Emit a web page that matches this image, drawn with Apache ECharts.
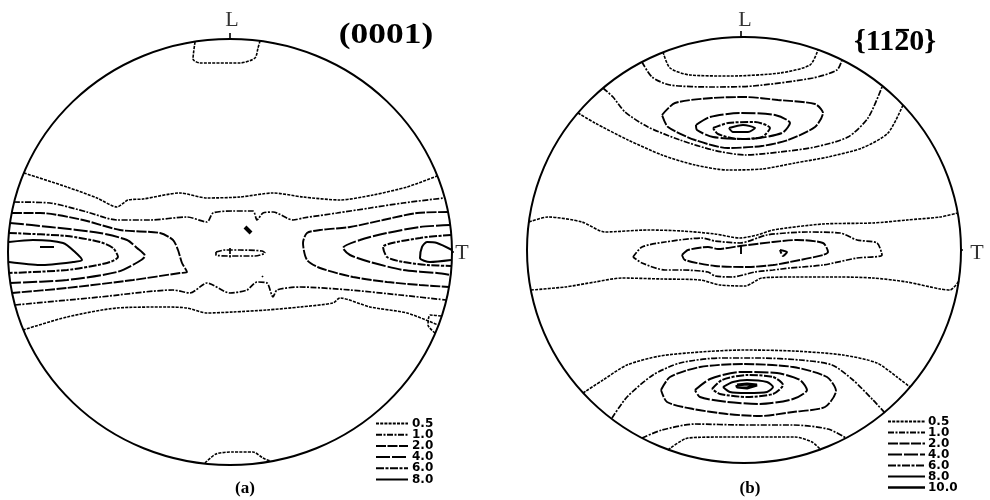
<!DOCTYPE html>
<html><head><meta charset="utf-8">
<script src="https://cdn.jsdelivr.net/npm/echarts@6/dist/echarts.min.js"></script>
<style>html,body{margin:0;padding:0;background:#fff}#c{width:990px;height:500px}</style>
</head><body><div id="c"></div>
<script>
// ---------- contour levels (legend) ----------
const levelsA = ['0.5', '1.0', '2.0', '4.0', '6.0', '8.0'];
const levelsB = ['0.5', '1.0', '2.0', '4.0', '6.0', '8.0', '10.0'];

// ---------- panel (a) (0001): contour traces, projection units (net radius x 222, y 213) ----------
const aCapTop  = [[-35,210],[-37,193],[-30,189],[10,189],[25,194],[28,204],[30,211]];
const aCapBot  = [[-25,-211],[-14,-202],[3,-200],[23,-200],[33,-206],[40,-209]];
const a05Top   = [[-206,79],[-163,65],[-133,54],[-113,45],[-102,52],[-87,53],[-50,59],[-23,54],[10,55],[43,59],[73,55],[110,52],[143,57],[177,65],[207,76]];
const a05Bot   = [[-207,-78],[-163,-65],[-113,-56],[-63,-55],[-43,-56],[-23,-61],[3,-60],[37,-58],[70,-55],[103,-51],[110,-46],[140,-55],[177,-61],[208,-73]];
const a05Edge  = [[211,-64],[200,-63],[198,-73],[205,-81]];
const a10Top   = [[-216,50],[-180,49],[-143,40],[-113,32],[-80,32],[-43,35],[-23,30],[-17,39],[3,41],[23,41],[27,32],[33,39],[43,40],[63,32],[73,34],[107,39],[140,44],[173,49],[214,54]];
const a10Bot   = [[-215,-53],[-130,-45],[-57,-38],[-40,-41],[-23,-31],[0,-41],[17,-38],[27,-30],[37,-31],[43,-45],[47,-38],[70,-35],[120,-38],[170,-43],[216,-48]];
const a20Left  = [[-218,39],[-190,39],[-147,32],[-110,22],[-70,19],[-57,12],[-52,2],[-48,-11],[-43,-20],[-50,-21],[-97,-28],[-163,-36],[-218,-41]];
const a20Right = [[218,40],[187,39],[153,32],[120,25],[90,22],[77,19],[73,9],[77,-8],[90,-16],[123,-25],[157,-30],[190,-33],[219,-35]];
const a40Left  = [[-220,29],[-180,25],[-130,19],[-103,12],[-93,4],[-85,-4],[-92,-10],[-113,-20],[-163,-28],[-220,-31]];
const a40Right = [[220,27],[190,25],[157,19],[130,12],[113,4],[120,-3],[140,-10],[173,-18],[207,-21],[221,-23]];
const a60Left  = [[-221,19],[-163,16],[-130,10],[-117,4],[-112,-5],[-123,-11],[-163,-18],[-221,-21]];
const a60Right = [[221,17],[190,14],[153,5],[157,-5],[173,-10],[197,-13],[221,-14]];
const a80Left  = [[-221,10],[-197,12],[-167,9],[-155,0],[-148,-8],[-157,-10],[-190,-13],[-221,-10]];
const a80Right = [[222,2],[207,9],[197,10],[192,5],[190,-6],[200,-10],[221,-8]];
const a80Mark  = [[-190,5],[-176,5]];
const aCentre  = [[-14,0],[-5,2],[10,2],[32,1],[35,-1],[25,-4],[0,-4],[-14,-3],[-14,0]];
const aCentreTick = [[0,4],[0,-6]];
const aSpot    = [[15,25],[21,19]];
const aDot     = [[32,-24],[33,-25]];

// ---------- panel (b) {11-20}: contour traces (net radius x 217, y 213) ----------
const bCap1    = [[-81,198],[-74,182],[-54,175],[-14,174],[36,177],[66,185],[74,200]];
const bCap2    = [[-102,188],[-92,173],[-74,165],[-31,163],[9,164],[69,172],[93,180],[98,190]];
const b10Top   = [[-141,162],[-131,153],[-119,138],[-96,123],[-64,110],[-31,100],[1,95],[36,98],[71,103],[104,113],[124,132],[138,163]];
const b05Top   = [[-166,137],[-149,127],[-116,110],[-82,95],[-49,85],[-16,80],[18,81],[51,87],[84,93],[118,102],[144,117],[159,145]];
const b20Top   = [[-82,135],[-69,147],[-32,152],[1,153],[34,150],[71,146],[79,137],[71,123],[44,110],[18,104],[-16,102],[-49,110],[-76,123],[-82,135]];
const b40Top   = [[-48,125],[-34,133],[-4,137],[31,135],[46,127],[38,117],[4,111],[-31,113],[-47,120],[-48,125]];
const b60Top   = [[-31,122],[-16,127],[11,128],[26,122],[18,113],[-6,111],[-26,116],[-31,122]];
const b80Top   = [[-15,122],[-1,125],[11,122],[4,118],[-11,118],[-15,122]];
const b05Mid1  = [[-215,28],[-196,33],[-162,28],[-139,18],[-96,20],[-62,19],[-29,16],[-4,12],[13,15],[29,20],[79,26],[129,27],[163,30],[196,33],[214,37]];
const b05Mid2  = [[-213,-40],[-179,-37],[-149,-32],[-122,-28],[-82,-29],[-44,-30],[-24,-35],[1,-36],[18,-28],[51,-27],[96,-27],[129,-28],[163,-32],[196,-39],[206,-40],[215,-31]];
const b10Mid   = [[-111,-7],[-102,3],[-79,8],[-42,12],[-29,9],[-4,7],[23,15],[63,18],[96,17],[113,10],[133,7],[138,-5],[113,-8],[79,-15],[46,-18],[29,-20],[11,-22],[-12,-27],[-29,-26],[-36,-22],[-62,-20],[-79,-20],[-102,-13],[-111,-7]];
const b20Mid   = [[-62,-5],[-56,0],[-36,3],[-26,1],[-4,4],[29,8],[53,10],[79,7],[84,-2],[79,-5],[46,-12],[29,-15],[4,-17],[-29,-16],[-59,-10],[-62,-5]];
const b40Mid   = [[36,0],[43,-2],[39,-6],[36,0]];
const bCross   = [[-3,4],[-3,-4]];
const b05Bot   = [[-161,-143],[-141,-130],[-117,-115],[-84,-106],[-44,-102],[-1,-100],[49,-101],[99,-105],[133,-113],[153,-127],[166,-137]];
const b10Bot   = [[-132,-168],[-117,-147],[-91,-125],[-64,-113],[-24,-108],[16,-108],[56,-110],[88,-115],[109,-130],[129,-150],[141,-163]];
const b20Bot   = [[-83,-140],[-74,-127],[-44,-117],[-1,-114],[49,-117],[83,-127],[92,-141],[81,-157],[49,-162],[16,-166],[-17,-164],[-51,-159],[-77,-152],[-83,-140]];
const b40Bot   = [[-49,-140],[-34,-129],[-4,-122],[33,-123],[56,-130],[63,-140],[49,-149],[16,-154],[-17,-152],[-44,-147],[-49,-140]];
const b60Bot   = [[-32,-139],[-22,-130],[3,-125],[29,-127],[39,-135],[29,-144],[3,-147],[-24,-144],[-32,-139]];
const b80Bot   = [[-21,-137],[-11,-132],[3,-130],[23,-132],[29,-137],[23,-142],[3,-143],[-14,-142],[-21,-137]];
const b100Bot  = [[-7,-135],[3,-134],[13,-135],[13,-137],[3,-138],[-7,-137],[-7,-135]];
const bCap3    = [[-102,-188],[-82,-180],[-49,-174],[-1,-175],[49,-175],[84,-179],[102,-188]];
const bCap4    = [[-76,-200],[-56,-188],[-16,-187],[51,-187],[68,-192],[77,-200]];

// ---------- axis reference marks (L = longitudinal, T = transverse) ----------
const aTicks = [[[0,213],[0,219]], [[222,0],[228,0]]];
const bTicks = [[[-3,213],[-3,219]], [[217,0],[223,0]]];
const aLabels = [{name:'L', value:[2,232]}, {name:'T', value:[232,-1]}];
const bLabels = [{name:'L', value:[1,230]}, {name:'T', value:[233,-3]}];

// ---------- styling ----------
const NET = [{cx:230, cy:252, rx:222, ry:213}, {cx:744, cy:250, rx:217, ry:213}];
const DASH = {'0.5':[3,1.2], '1.0':[6,1.5,2,1.5], '2.0':[10,1.5], '4.0':[14,2], '6.0':[8,1.5,3,1.5], '8.0':'solid', '10.0':'solid'};
const WID  = {'0.5':1.6, '1.0':1.7, '2.0':1.9, '4.0':2, '6.0':2, '8.0':2, '10.0':2.2};

const traces = [
  [0,'0.5',aCapTop],[0,'0.5',aCapBot],[0,'0.5',a05Top],[0,'0.5',a05Bot],[0,'0.5',a05Edge],
  [0,'1.0',a10Top],[0,'1.0',a10Bot],[0,'2.0',a20Left],[0,'2.0',a20Right],
  [0,'4.0',a40Left],[0,'4.0',a40Right],[0,'6.0',a60Left],[0,'6.0',a60Right],
  [0,'8.0',a80Left],[0,'8.0',a80Right],[0,'8.0',a80Mark],
  [0,'1.0',aCentre],[0,'1.0',aCentreTick],[0,'1.0',aDot],
  [1,'0.5',bCap1],[1,'1.0',bCap2],[1,'1.0',b10Top],[1,'0.5',b05Top],
  [1,'2.0',b20Top],[1,'4.0',b40Top],[1,'6.0',b60Top],[1,'8.0',b80Top],
  [1,'0.5',b05Mid1],[1,'0.5',b05Mid2],[1,'1.0',b10Mid],[1,'2.0',b20Mid],[1,'4.0',b40Mid],[1,'2.0',bCross],
  [1,'0.5',b05Bot],[1,'1.0',b10Bot],[1,'2.0',b20Bot],[1,'4.0',b40Bot],[1,'6.0',b60Bot],[1,'8.0',b80Bot],
  [1,'1.0',bCap3],[1,'0.5',bCap4]
];

const series = [];
traces.forEach(([p, lev, d]) => series.push({
  type:'line', name:lev, xAxisIndex:p, yAxisIndex:p, data:d, symbol:'none', smooth:0.25,
  clip:false, silent:true, animation:false,
  lineStyle:{color:'#000', width:WID[lev], type:DASH[lev]}
}));
series.push({type:'line', xAxisIndex:0, yAxisIndex:0, data:aSpot, symbol:'none', clip:false, silent:true,
  lineStyle:{color:'#000', width:4}});
series.push({type:'line', xAxisIndex:1, yAxisIndex:1, data:b100Bot, symbol:'none', clip:false, silent:true,
  lineStyle:{color:'#000', width:3}});
[aTicks, bTicks].forEach((tk, p) => tk.forEach(d => series.push({type:'line', xAxisIndex:p, yAxisIndex:p, data:d,
  symbol:'none', clip:false, silent:true, lineStyle:{color:'#000', width:1.6}})));
[aLabels, bLabels].forEach((lb, p) => series.push({type:'scatter', xAxisIndex:p, yAxisIndex:p, data:lb,
  symbolSize:0, clip:false, silent:true,
  label:{show:true, position:'inside', formatter:'{b}', color:'#000', fontFamily:'Liberation Serif', fontSize:22}}));
// net outline (the projection circle) drawn via the axes' scales
NET.forEach((n, p) => series.push({type:'custom', xAxisIndex:p, yAxisIndex:p, data:[[0,0]], clip:false, silent:true,
  renderItem:(params, api) => {
    const c = api.coord([0,0]); const s = api.size([n.rx, n.ry]);
    return {type:'ellipse', shape:{cx:c[0], cy:c[1], rx:s[0], ry:s[1]}, style:{fill:null, stroke:'#000', lineWidth:2}};
  }}));

// legends (contour levels)
const graphic = [];
function legend(levels, x1, x2, tx, y0, dy) {
  levels.forEach((lev, i) => {
    const y = y0 + i*dy;
    graphic.push({type:'line', shape:{x1:x1, y1:y, x2:x2, y2:y}, style:{stroke:'#000', lineWidth:lev==='10.0'?2.4:2, lineDash:DASH[lev]==='solid'?null:DASH[lev]}});
    graphic.push({type:'text', style:{text:lev, x:tx, y:y, font:'bold 12px "DejaVu Sans"', fill:'#000', textVerticalAlign:'middle'}});
  });
}
legend(levelsA, 376, 408, 412, 423.5, 11.2);
legend(levelsB, 888, 925, 928, 421.5, 11);
graphic.push({type:'text', x:386, y:35, scaleX:1.18, style:{text:'(0001)', x:0, y:0, font:'bold 30px "Liberation Serif"', fill:'#000', textAlign:'center', textVerticalAlign:'middle'}});
graphic.push({type:'text', x:895, y:42, style:{text:'{1120}', x:0, y:0, font:'bold 30px "Liberation Serif"', fill:'#000', textAlign:'center', textVerticalAlign:'middle'}});
graphic.push({type:'line', shape:{x1:896, y1:30, x2:909, y2:30}, style:{stroke:'#000', lineWidth:2.2}});
graphic.push({type:'text', style:{text:'(a)', x:245, y:489, font:'bold 17px "Liberation Serif"', fill:'#000', textAlign:'center', textVerticalAlign:'middle'}});
graphic.push({type:'text', style:{text:'(b)', x:750, y:489, font:'bold 17px "Liberation Serif"', fill:'#000', textAlign:'center', textVerticalAlign:'middle'}});

const chart = echarts.init(document.getElementById('c'), null, {renderer:'canvas'});
chart.setOption({
  animation:false,
  backgroundColor:'#fff',
  grid: NET.map(n => ({left:n.cx-n.rx, top:n.cy-n.ry, width:2*n.rx, height:2*n.ry, containLabel:false})),
  xAxis: NET.map((n,i) => ({type:'value', gridIndex:i, min:-n.rx, max:n.rx, show:false})),
  yAxis: NET.map((n,i) => ({type:'value', gridIndex:i, min:-n.ry, max:n.ry, show:false})),
  series: series,
  graphic: graphic
});
</script></body></html>
